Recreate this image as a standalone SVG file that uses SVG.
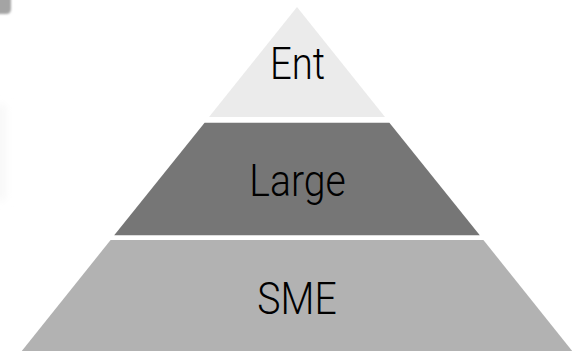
<svg xmlns="http://www.w3.org/2000/svg" width="580" height="351" viewBox="0 0 580 351">
  <defs>
    <style>
      .lbl { font-family: Roboto, "Liberation Sans", Arial, sans-serif; font-weight: 300; font-size: 45px; fill: #000; text-anchor: middle; }
    </style>
    <filter id="soft" x="-50%" y="-50%" width="200%" height="200%">
      <feGaussianBlur stdDeviation="1.2"/>
    </filter>
    <filter id="faint" x="-100%" y="-50%" width="300%" height="200%">
      <feGaussianBlur stdDeviation="4"/>
    </filter>
  </defs>
  <rect width="580" height="351" fill="#ffffff"/>
  <g id="edge-artifacts">
    <path d="M-5,-5 H11 V9 Q11,14 6,14 H-5 Z" fill="#a4a4a4" filter="url(#soft)"/>
    <rect x="-8" y="105" width="14" height="95" fill="#f8f8f8" filter="url(#faint)"/>
  </g>
  <g id="node-ent">
    <polygon points="297,7 385,117 209,117" fill="#ebebeb"/>
    <text class="lbl" transform="translate(297.5,79.3) scale(0.85,1)">Ent</text>
  </g>
  <g id="node-large">
    <polygon points="204.6,122.7 389.4,122.7 479.8,235.3 114.2,235.3" fill="#767676"/>
    <text class="lbl" transform="translate(297.5,196) scale(0.87,1)">Large</text>
  </g>
  <g id="node-sme">
    <polygon points="110.6,240 483.4,240 573,352 21,352" fill="#b2b2b2"/>
    <text class="lbl" transform="translate(297,314) scale(0.87,1)">SME</text>
  </g>
  <g id="connectors"/>
</svg>
